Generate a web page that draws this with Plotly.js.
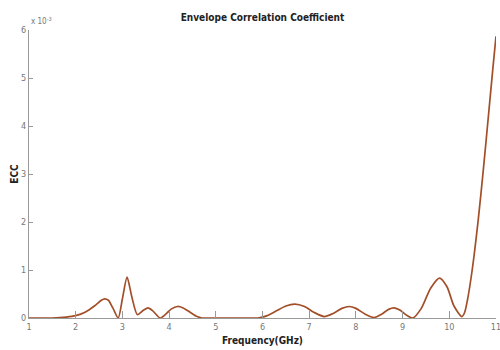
<!DOCTYPE html>
<html>
<head>
<meta charset="utf-8">
<script src="https://cdn.plot.ly/plotly-3.0.1.min.js"></script>
<style>
html,body{margin:0;padding:0;background:#fff;}
#chart{width:500px;height:350px;}
</style>
</head>
<body>
<div id="chart"></div>
<script>
// Frequency in GHz
var freq = [1, 1.5, 1.8, 2.0, 2.2, 2.4, 2.55, 2.62, 2.7, 2.8, 2.91, 3.0, 3.10, 3.2, 3.32, 3.45, 3.55, 3.65, 3.81, 3.95, 4.05, 4.18, 4.3, 4.45, 4.6, 4.7, 5.0, 5.5, 5.9, 6.1, 6.3, 6.5, 6.69, 6.9, 7.1, 7.32, 7.5, 7.7, 7.86, 8.0, 8.2, 8.39, 8.55, 8.7, 8.82, 8.95, 9.1, 9.22, 9.4, 9.6, 9.79, 9.95, 10.1, 10.27, 10.33, 10.39, 10.49, 10.62, 10.73, 10.83, 10.93, 11.0];
// ECC in units of 1e-3
var ecc = [0.0, 0.0, 0.02, 0.05, 0.12, 0.25, 0.37, 0.40, 0.37, 0.2, 0.0, 0.4, 0.85, 0.45, 0.07, 0.16, 0.21, 0.15, 0.0, 0.1, 0.19, 0.24, 0.21, 0.12, 0.03, 0.0, 0.0, 0.0, 0.0, 0.05, 0.15, 0.25, 0.29, 0.24, 0.12, 0.03, 0.09, 0.2, 0.24, 0.2, 0.08, 0.01, 0.08, 0.18, 0.21, 0.16, 0.05, 0.0, 0.2, 0.62, 0.83, 0.65, 0.25, 0.03, 0.12, 0.38, 1.0, 2.05, 3.1, 4.13, 5.17, 5.87];
var xTicks = [1, 2, 3, 4, 5, 6, 7, 8, 9, 10, 11];
var yTicks = [0, 1, 2, 3, 4, 5, 6];

var narrow = '"Liberation Sans Narrow", "Arial Narrow", "DejaVu Sans Condensed", "Liberation Sans", Arial, sans-serif';

var trace = {
  x: freq, y: ecc, type: 'scatter', mode: 'lines',
  line: {color: '#a24f29', width: 1.7, shape: 'spline', smoothing: 0.7},
  hoverinfo: 'none'
};

var layout = {
  width: 500, height: 350,
  margin: {l: 29, r: 4, t: 30, b: 32, pad: 0},
  paper_bgcolor: '#fff', plot_bgcolor: '#fff',
  showlegend: false,
  title: {text: '<b>Envelope Correlation Coefficient</b>', x: 0.525, xanchor: 'center', y: 0.95, yanchor: 'middle',
          font: {family: narrow, size: 10, color: '#222'}},
  xaxis: {
    range: [1, 11], tickvals: xTicks, ticktext: xTicks.map(String),
    showgrid: false, zeroline: false, showline: true, linecolor: '#999', linewidth: 1,
    ticks: 'inside', ticklen: 7, tickcolor: '#999', tickwidth: 1,
    ticklabeloverflow: 'allow',
    tickfont: {family: narrow, size: 9, color: '#777'},
    title: {text: '<b>Frequency(GHz)</b>', standoff: 6, font: {family: narrow, size: 10, color: '#222'}}
  },
  yaxis: {
    range: [0, 6], tickvals: yTicks, ticktext: yTicks.map(String),
    showgrid: false, zeroline: false, showline: true, linecolor: '#999', linewidth: 1,
    ticks: 'inside', ticklen: 4, tickcolor: '#999', tickwidth: 1,
    tickfont: {family: narrow, size: 9, color: '#777'},
    title: {text: '<b>ECC</b>', standoff: 0, font: {family: narrow, size: 10, color: '#222'}}
  },
  annotations: [{
    text: 'x 10<sup>-3</sup>', xref: 'paper', yref: 'paper', x: 0, y: 1, xanchor: 'left', yanchor: 'bottom',
    yshift: 2, showarrow: false, font: {family: narrow, size: 8, color: '#777'}
  }]
};

Plotly.newPlot('chart', [trace], layout, {displayModeBar: false, staticPlot: true});
</script>
</body>
</html>
